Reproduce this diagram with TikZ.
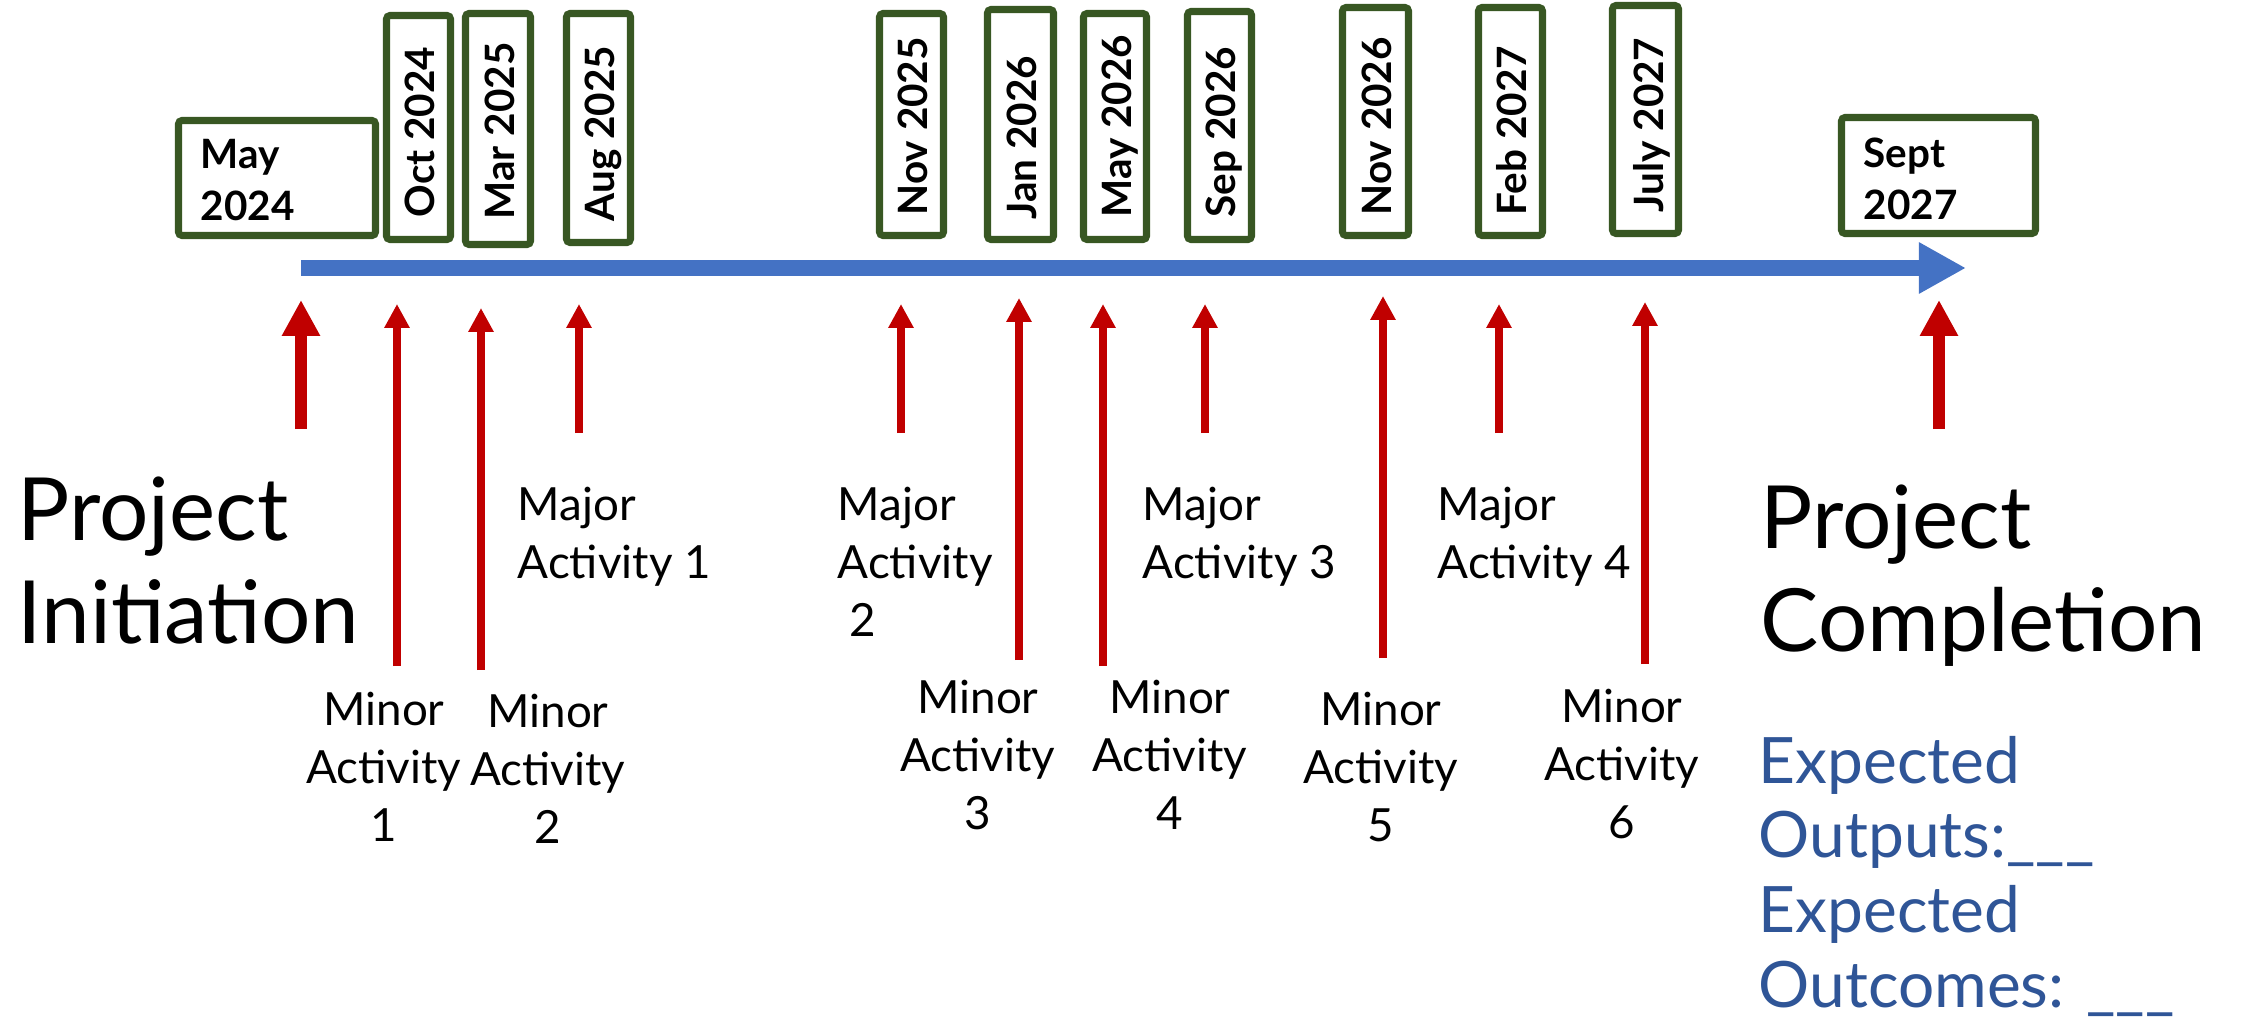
\documentclass[tikz,border=0pt]{standalone}
\usepackage{fontspec}
\setmainfont{Lato}
\usetikzlibrary{arrows.meta,fit}

\definecolor{boxgreen}{HTML}{385723}
\definecolor{tlblue}{HTML}{4472C4}
\definecolor{arred}{HTML}{C00000}
\definecolor{outblue}{HTML}{2F5597}

% stacked lines, first baseline = node baseline
\newcommand{\txtstack}[2]{\begin{tabular}[t]{@{}#1@{}}#2\end{tabular}}

\tikzset{
  datebox/.style={inner sep=-0.035cm, outer sep=0pt, draw=boxgreen, line width=2pt, rounded corners=1pt},
  vdate/.style={rotate=90, anchor=base west, inner sep=0pt, font=\fontsize{11.5}{14.8}\selectfont\bfseries},
  hdate/.style={anchor=base west, inner sep=0pt, font=\fontsize{11.5}{14.8}\selectfont\bfseries},
  timeline/.style={draw=tlblue, line width=4.55pt, -{Triangle[length=13.4pt,width=13.7pt]}},
  minorarrow/.style={draw=arred, line width=2.3pt, -{Triangle[length=6.8pt,width=6.8pt]}},
  bigarrow/.style={draw=arred, line width=3.4pt, -{Triangle[length=10.2pt,width=10.2pt]}},
  acttext/.style={anchor=base, inner sep=0pt, font=\fontsize{13}{16.5}\selectfont},
  majtext/.style={acttext, anchor=base west},
  bigtext/.style={anchor=base west, inner sep=0pt, font=\fontsize{24.8}{29.3}\selectfont},
  outtext/.style={anchor=base west, inner sep=0pt, text=outblue, font=\fontsize{18.2}{21.3}\selectfont},
}

\begin{document}
\begin{tikzpicture}[x=0.01cm,y=-0.01cm]
\path[use as bounding box] (0,0) rectangle (2250,1021);

% ---- date boxes ----
\node[datebox, fit={(175,117) (379,239)}] (d1) {};
\node[hdate] (t1) at (200,168) {\txtstack{l}{May\\2024}};
\node[datebox, fit={(383,12) (454,243)}] (d2) {};
\node[vdate] (t2) at (434.5,218) {Oct 2024};
\node[datebox, fit={(462,10) (534,248)}] (d3) {};
\node[vdate] (t3) at (514,220) {Mar 2025};
\node[datebox, fit={(563,10) (634,246)}] (d4) {};
\node[vdate] (t4) at (614.5,222) {Aug 2025};
\node[datebox, fit={(876,10) (947,239)}] (d5) {};
\node[vdate] (t5) at (927.5,216) {Nov 2025};
\node[datebox, fit={(984,6) (1057,243)}] (d6) {};
\node[vdate] (t6) at (1036.5,220) {Jan 2026};
\node[datebox, fit={(1080,10) (1150,243)}] (d7) {};
\node[vdate] (t7) at (1131,218) {May 2026};
\node[datebox, fit={(1184,8) (1255,243)}] (d8) {};
\node[vdate] (t8) at (1235.5,218) {Sep 2026};
\node[datebox, fit={(1339,4) (1412,239)}] (d9) {};
\node[vdate] (t9) at (1391.5,216) {Nov 2026};
\node[datebox, fit={(1475,4) (1546,239)}] (d10) {};
\node[vdate] (t10) at (1526.5,216) {Feb 2027};
\node[datebox, fit={(1609,2) (1682,237)}] (d11) {};
\node[vdate] (t11) at (1663,213) {July 2027};
\node[datebox, fit={(1838,114) (2039,237)}] (d12) {};
\node[hdate] (t12) at (1863,167) {\txtstack{l}{Sept\\2027}};

% ---- timeline ----
\coordinate (tlstart) at (301,268);
\coordinate (tlend) at (1966,268);
\draw[timeline] (tlstart) -- (tlend);

% ---- milestone arrows ----
\coordinate (s0b) at (301,429);  \coordinate (s0t) at (301,300);
\coordinate (a1b) at (397,666);  \coordinate (a1t) at (397,304);
\coordinate (a2b) at (481,670);  \coordinate (a2t) at (481,308);
\coordinate (a3b) at (579,433);  \coordinate (a3t) at (579,304);
\coordinate (a4b) at (901,433);  \coordinate (a4t) at (901,304);
\coordinate (a5b) at (1019,660); \coordinate (a5t) at (1019,298);
\coordinate (a6b) at (1103,666); \coordinate (a6t) at (1103,304);
\coordinate (a7b) at (1205,433); \coordinate (a7t) at (1205,304);
\coordinate (a8b) at (1383,658); \coordinate (a8t) at (1383,296);
\coordinate (a9b) at (1499,433); \coordinate (a9t) at (1499,304);
\coordinate (a10b) at (1645,664); \coordinate (a10t) at (1645,302);
\coordinate (s1b) at (1939,429); \coordinate (s1t) at (1939,300);

\draw[bigarrow] (s0b) -- (s0t);
\foreach \i in {1,...,10} \draw[minorarrow] (a\i b) -- (a\i t);
\draw[bigarrow] (s1b) -- (s1t);

% ---- labels ----
\node[bigtext] (init) at (17,540) {\txtstack{l}{Project\\Initiation}};
\node[bigtext] (compl) at (1760,548) {\txtstack{l}{Project\\Completion}};
\node[outtext] (expect) at (1758,783) {\txtstack{l}{Expected\\Outputs:\_\_\_\\Expected\\Outcomes: \_\_\_}};

\node[majtext] (ma1) at (517,520) {\txtstack{l}{Major\\Activity 1}};
\node[majtext] (ma2) at (837,520) {\txtstack{l}{Major\\Activity\\\hspace{0.25em}2}};
\node[majtext] (ma3) at (1142,520) {\txtstack{l}{Major\\Activity 3}};
\node[majtext] (ma4) at (1437,520) {\txtstack{l}{Major\\Activity 4}};

\node[acttext] (mi1) at (384,725) {\txtstack{c}{Minor\\Activity\\1}};
\node[acttext] (mi2) at (548,727) {\txtstack{c}{Minor\\Activity\\2}};
\node[acttext] (mi3) at (978,713) {\txtstack{c}{Minor\\Activity\\3}};
\node[acttext] (mi4) at (1170,713) {\txtstack{c}{Minor\\Activity\\4}};
\node[acttext] (mi5) at (1381,725) {\txtstack{c}{Minor\\Activity\\5}};
\node[acttext] (mi6) at (1622,722) {\txtstack{c}{Minor\\Activity\\6}};
\end{tikzpicture}
\end{document}
